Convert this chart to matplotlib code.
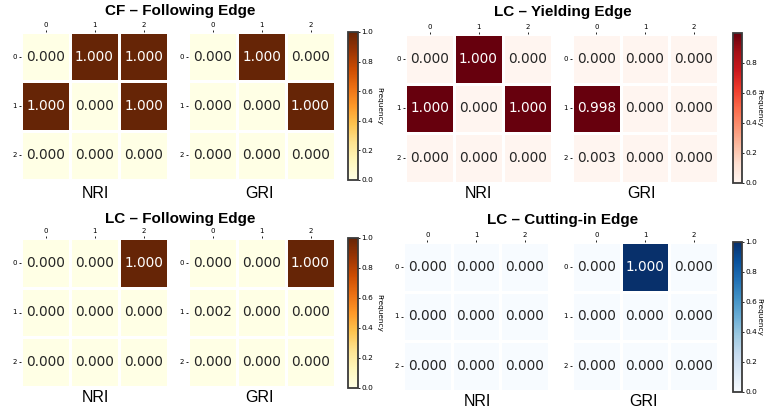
import numpy as np
import matplotlib
matplotlib.use("Agg")
import matplotlib.pyplot as plt
import seaborn as sns

W, H = 764, 408

titles = ["CF – Following Edge", "LC – Yielding Edge", "LC – Following Edge", "LC – Cutting-in Edge"]
cmaps = ["YlOrBr", "Reds", "YlOrBr", "Blues"]
vmaxes = [1.0, 0.998, 1.0, 1.0]
method_labels = ["NRI", "GRI"]
tick_labels = ["0", "1", "2"]

cf_follow_nri = [[0, 1, 1], [1, 0, 1], [0, 0, 0]]
cf_follow_gri = [[0, 1, 0], [0, 0, 1], [0, 0, 0]]
lc_yield_nri = [[0, 1, 0], [1, 0, 1], [0, 0, 0]]
lc_yield_gri = [[0, 0, 0], [0.998, 0, 0], [0.003, 0, 0]]
lc_follow_nri = [[0, 0, 1], [0, 0, 0], [0, 0, 0]]
lc_follow_gri = [[0, 0, 1], [0.002, 0, 0], [0, 0, 0]]
lc_cut_nri = [[0, 0, 0], [0, 0, 0], [0, 0, 0]]
lc_cut_gri = [[0, 1, 0], [0, 0, 0], [0, 0, 0]]

data = [(cf_follow_nri, cf_follow_gri), (lc_yield_nri, lc_yield_gri),
        (lc_follow_nri, lc_follow_gri), (lc_cut_nri, lc_cut_gri)]

# pixel layout: (nri_x0, nri_x1, gri_x0, gri_x1, y0, y1, cb_x0, cb_x1, cb_y0, cb_y1,
#                title_x, title_y, nri_lx, gri_lx, label_y, cbar_label_x)
layout = [
    (21, 168, 188, 335, 32, 180, 348, 358, 32, 180, 180, 11, 95, 260, 193, 379),
    (405, 552, 572, 718, 34, 183, 733, 742, 33, 183, 563, 12, 478, 642, 193, 759),
    (21, 168, 188, 335, 238, 387, 348, 358, 238, 388, 180, 219, 95, 260, 398, 379),
    (403, 549, 572, 718, 242, 391, 733, 742, 242, 392, 563, 220, 477, 643, 401, 759),
]

fig = plt.figure(figsize=(W / 100, H / 100), dpi=100)


def rect(x0, x1, y0, y1):
    return [x0 / W, 1 - y1 / H, (x1 - x0) / W, (y1 - y0) / H]


for k in range(4):
    (nx0, nx1, gx0, gx1, y0, y1, cx0, cx1, cy0, cy1, tx, ty, nlx, glx, ly, clx) = layout[k]
    cax = fig.add_axes(rect(cx0, cx1, cy0, cy1))
    for j, (mat, (ax0, ax1)) in enumerate(zip(data[k], [(nx0, nx1), (gx0, gx1)])):
        ax = fig.add_axes(rect(ax0, ax1, y0, y1))
        arr = np.array(mat, dtype=float)
        sns.heatmap(arr, ax=ax, cmap=cmaps[k], vmin=0, vmax=vmaxes[k],
                    annot=True, fmt=".3f", annot_kws={"fontsize": 9.8},
                    linewidths=1, linecolor="white",
                    cbar=(j == 1), cbar_ax=cax if j == 1 else None,
                    xticklabels=tick_labels, yticklabels=tick_labels)
        ax.xaxis.tick_top()
        ax.tick_params(axis="both", labelsize=5, length=1.5, width=0.6, pad=1.5)
        ax.set_yticklabels(tick_labels, rotation=0)
        ax.set_xticklabels(tick_labels, rotation=0)
        if j == 1:
            cb = ax.collections[0].colorbar
            cb.outline.set_linewidth(1.3)
            cb.outline.set_edgecolor("#3a3a3a")
            cb.outline.set_visible(True)
        fig.text((nlx if j == 0 else glx) / W, 1 - ly / H, method_labels[j],
                 ha="center", va="center", fontsize=11.5, family="Liberation Sans")
    cax.tick_params(labelsize=5.3, length=1.5, width=0.6, pad=1)
    cax.set_yticks([t for t in [0, 0.2, 0.4, 0.6, 0.8, 1.0] if t <= vmaxes[k]])
    fig.text(clx / W, 1 - (cy0 + cy1) / 2 / H, "Frequency", rotation=270,
             ha="center", va="center", fontsize=5.3)
    fig.text(tx / W, 1 - ty / H, titles[k], ha="center", va="center",
             fontsize=11, fontweight="bold", family="Liberation Sans")

fig.savefig("out.png", dpi=100)
